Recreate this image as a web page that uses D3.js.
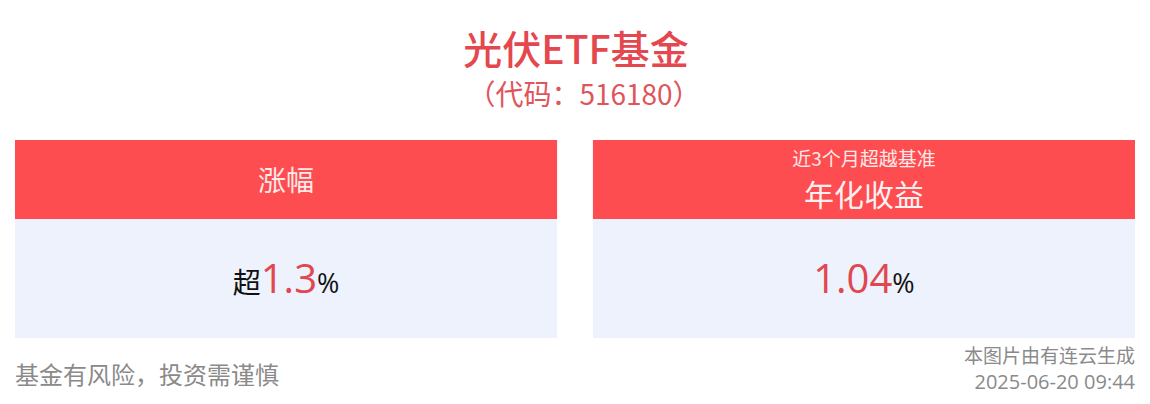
<!DOCTYPE html>
<html>
<head>
<meta charset="utf-8">
<script src="https://cdn.jsdelivr.net/npm/d3@7/dist/d3.min.js"></script>
<style>
  body { margin: 0; background: #fff; }
  svg { display: block; font-family: "Noto Sans CJK SC", "Noto Sans", sans-serif; }
</style>
</head>
<body>
<svg id="card" width="1150" height="404"></svg>
<script>
var title = "光伏ETF基金";
var subtitle = "（代码：516180）";
var headerTop = ["", "近3个月超越基准"];
var headerMain = ["涨幅", "年化收益"];
var valuePrefix = ["超", ""];
var values = [1.3, 1.04];
var valueDigits = [1, 2];
var note = "基金有风险，投资需谨慎";
var source = "本图片由有连云生成";
var stamp = "2025-06-20 09:44";

var svg = d3.select("#card");
var width = +svg.attr("width");
var height = +svg.attr("height");

var x = d3.scaleBand()
  .domain(d3.range(values.length))
  .range([15, width - 15])
  .paddingInner(0.062);

var red = "#fd4d50";
var textRed = "#e5474f";

svg.append("text")
  .attr("x", width / 2 + 1).attr("y", 64)
  .attr("text-anchor", "middle")
  .attr("font-size", 39).attr("font-weight", 500)
  .attr("fill", textRed)
  .text(title);

svg.append("text")
  .attr("x", width / 2 + 9).attr("y", 105)
  .attr("text-anchor", "middle")
  .attr("font-size", 28)
  .attr("fill", "#e0555b")
  .text(subtitle);

var panel = svg.selectAll("g.panel")
  .data(values)
  .enter()
  .append("g")
    .attr("class", "panel")
    .attr("transform", function(d, i) { return "translate(" + x(i) + ",140)"; });

panel.append("rect")
  .attr("width", x.bandwidth()).attr("height", 79)
  .attr("fill", red);

panel.append("rect")
  .attr("y", 79)
  .attr("width", x.bandwidth()).attr("height", 119)
  .attr("fill", "#edf2fd");

panel.each(function(d, i) {
  var g = d3.select(this);
  var cx = x.bandwidth() / 2;
  if (headerTop[i]) {
    g.append("text")
      .attr("x", cx).attr("y", 26)
      .attr("text-anchor", "middle")
      .attr("font-size", 19)
      .attr("fill", "#fde9e9")
      .text(headerTop[i]);
    g.append("text")
      .attr("x", cx).attr("y", 66)
      .attr("text-anchor", "middle")
      .attr("font-size", 30)
      .attr("fill", "#fff1f1")
      .text(headerMain[i]);
  } else {
    g.append("text")
      .attr("x", cx).attr("y", 51)
      .attr("text-anchor", "middle")
      .attr("font-size", 28)
      .attr("fill", "#fde9e9")
      .text(headerMain[i]);
  }

  var t = g.append("text")
    .attr("x", cx).attr("y", 153)
    .attr("text-anchor", "middle");
  t.append("tspan")
    .attr("font-size", 28).attr("fill", "#111")
    .text(valuePrefix[i]);
  t.append("tspan")
    .attr("font-size", 40).attr("fill", "#e0474f")
    .attr("font-family", "'Open Sans', sans-serif")
    .text(d3.format("." + valueDigits[i] + "f")(d));
  t.append("tspan")
    .attr("font-size", 27).attr("fill", "#111")
    .attr("font-family", "'Open Sans', sans-serif")
    .text("%");
});

svg.append("text")
  .attr("x", 15).attr("y", 384)
  .attr("font-size", 24)
  .attr("fill", "#8a8a8a")
  .text(note);

svg.append("text")
  .attr("x", width - 15).attr("y", 363)
  .attr("text-anchor", "end")
  .attr("font-size", 19)
  .attr("fill", "#8a8a8a")
  .text(source);

svg.append("text")
  .attr("x", width - 15).attr("y", 389)
  .attr("text-anchor", "end")
  .attr("font-size", 20)
  .attr("fill", "#8a8a8a")
  .attr("font-family", "'Open Sans', sans-serif")
  .text(stamp);
</script>
</body>
</html>
